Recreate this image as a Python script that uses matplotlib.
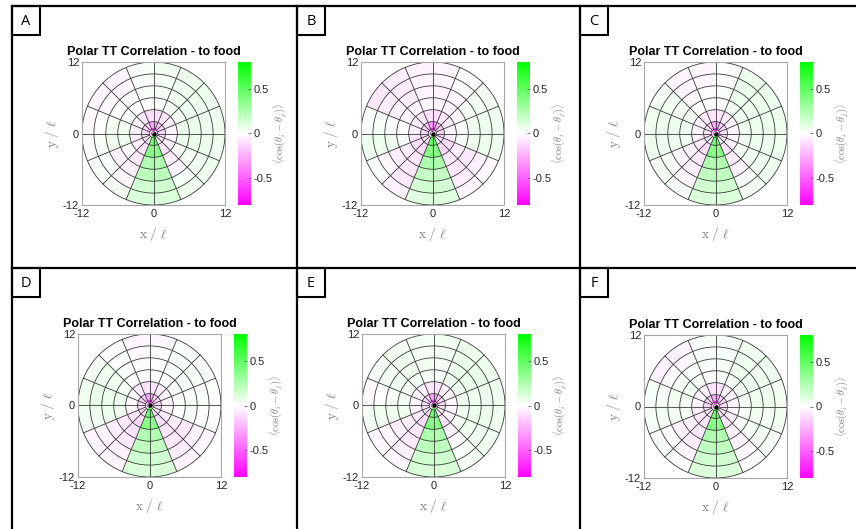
import numpy as np
import matplotlib
matplotlib.use('Agg')
import matplotlib.pyplot as plt
from matplotlib.colors import LinearSegmentedColormap
from matplotlib.lines import Line2D
from matplotlib.patches import Circle, Rectangle

plt.rcParams['font.family'] = ['Liberation Sans', 'DejaVu Sans']
plt.rcParams['mathtext.fontset'] = 'cm'

# ---------------- data ----------------
PANEL_LABELS = ['A', 'B', 'C', 'D', 'E', 'F']
TITLE = 'Polar TT Correlation - to food'
R_EDGES = [0.5, 1, 2, 4, 6, 8, 10, 12]          # radial bin edges (x / l)
N_SECTORS = 16                                   # angular bins, 22.5 deg each, from +x ccw
GRID_RADII = [2, 4, 6, 8, 10, 12]
INNER_RADII = [0.35, 0.7]
AXIS_TICKS = [-12, 0, 12]
AXIS_TICKLABELS = ['-12', '0', '12']
CBAR_TICKS = [-0.5, 0, 0.5]
CBAR_TICKLABELS = ['-0.5', '0', '0.5']
CLIM = (-0.8, 0.8)

# rows: radial bins (inner -> outer); columns: sectors 0..15
CORR_A = [
    [-0.20, -0.25, -0.40, -0.70, -0.70, -0.40, -0.25, -0.20, -0.15, -0.10, 0.10, 0.55, 0.55, 0.10, -0.10, -0.15],
    [-0.12, -0.15, -0.20, -0.35, -0.35, -0.20, -0.15, -0.12, -0.10, -0.08, -0.05, 0.55, 0.55, -0.05, -0.08, -0.10],
    [-0.04, -0.05, -0.08, -0.12, -0.12, -0.08, -0.05, -0.04, -0.04, -0.06, -0.10, 0.45, 0.45, -0.10, -0.06, -0.03],
    [0.06, 0.04, 0.03, 0.02, 0.01, 0.00, 0.02, 0.04, 0.05, 0.00, -0.07, 0.28, 0.28, -0.06, 0.02, 0.06],
    [0.07, 0.05, 0.05, 0.03, 0.02, -0.01, 0.00, 0.04, 0.05, -0.05, -0.05, 0.22, 0.22, -0.03, 0.04, 0.07],
    [0.06, 0.06, 0.05, 0.03, 0.02, -0.03, -0.02, 0.01, 0.03, 0.02, -0.02, 0.15, 0.15, 0.03, 0.05, 0.06],
    [0.05, 0.06, 0.05, 0.04, 0.02, -0.03, -0.03, -0.02, -0.01, 0.03, 0.04, 0.12, 0.12, 0.05, 0.05, 0.05],
]
CORR_B = [
    [-0.25, -0.30, -0.45, -0.75, -0.75, -0.45, -0.30, -0.25, -0.20, -0.15, 0.05, 0.55, 0.55, 0.05, -0.15, -0.20],
    [-0.15, -0.18, -0.22, -0.40, -0.40, -0.22, -0.18, -0.15, -0.12, -0.12, -0.10, 0.55, 0.55, -0.10, -0.12, -0.12],
    [-0.05, -0.06, -0.08, -0.12, -0.12, -0.08, -0.06, -0.06, -0.08, -0.12, -0.14, 0.45, 0.45, -0.14, -0.12, -0.06],
    [0.02, -0.02, -0.04, -0.03, -0.03, -0.04, -0.03, 0.00, 0.02, -0.06, -0.08, 0.28, 0.28, -0.08, -0.06, 0.02],
    [0.05, 0.03, -0.03, -0.04, -0.04, -0.06, -0.05, 0.02, 0.05, -0.06, -0.08, 0.20, 0.20, -0.08, -0.07, 0.05],
    [0.06, 0.04, 0.00, -0.03, -0.04, -0.06, -0.06, 0.03, 0.06, -0.02, -0.07, 0.14, 0.14, -0.06, -0.05, 0.06],
    [0.05, 0.04, 0.01, -0.03, -0.04, -0.06, -0.07, 0.02, 0.06, 0.02, -0.04, 0.10, 0.10, -0.03, -0.02, 0.05],
]
CORR_C = [
    [-0.20, -0.25, -0.40, -0.70, -0.70, -0.40, -0.25, -0.20, -0.15, -0.10, 0.10, 0.55, 0.55, 0.10, -0.10, -0.15],
    [-0.10, -0.12, -0.18, -0.35, -0.35, -0.18, -0.12, -0.10, -0.10, -0.10, -0.06, 0.55, 0.55, -0.06, -0.08, -0.10],
    [-0.03, -0.04, -0.06, -0.10, -0.10, -0.06, -0.04, -0.03, -0.04, -0.08, -0.12, 0.45, 0.45, -0.10, -0.05, -0.03],
    [0.05, 0.05, 0.04, 0.00, -0.01, 0.00, 0.03, 0.05, 0.05, -0.04, -0.07, 0.28, 0.28, -0.06, 0.03, 0.05],
    [0.06, 0.06, 0.06, 0.02, -0.01, -0.02, 0.04, 0.06, 0.06, -0.03, -0.06, 0.21, 0.21, -0.04, 0.05, 0.06],
    [0.06, 0.06, 0.07, 0.02, -0.02, -0.03, 0.05, 0.06, 0.06, 0.02, -0.03, 0.15, 0.15, 0.02, 0.05, 0.06],
    [0.05, 0.06, 0.06, 0.01, -0.02, -0.03, 0.04, 0.05, 0.06, 0.04, 0.02, 0.12, 0.12, 0.04, 0.05, 0.05],
]
CORR_D = [
    [-0.20, -0.25, -0.40, -0.70, -0.70, -0.40, -0.25, -0.20, -0.15, -0.10, 0.10, 0.55, 0.55, 0.10, -0.10, -0.15],
    [-0.12, -0.14, -0.18, -0.35, -0.35, -0.18, -0.14, -0.12, -0.10, -0.12, -0.10, 0.55, 0.55, -0.10, -0.10, -0.10],
    [-0.03, -0.04, -0.06, -0.10, -0.10, -0.06, -0.03, -0.02, -0.03, -0.10, -0.14, 0.45, 0.45, -0.12, -0.08, -0.03],
    [0.02, 0.02, 0.01, -0.01, -0.01, 0.01, 0.04, 0.06, 0.05, -0.07, -0.10, 0.28, 0.28, -0.09, -0.06, 0.01],
    [0.02, 0.03, 0.02, 0.00, -0.01, 0.02, 0.05, 0.07, 0.06, -0.06, -0.08, 0.21, 0.21, -0.08, -0.07, 0.02],
    [0.02, 0.03, 0.03, 0.00, -0.02, 0.02, 0.05, 0.07, 0.05, -0.04, -0.05, 0.15, 0.15, -0.06, -0.05, 0.02],
    [0.01, 0.02, 0.02, -0.02, -0.03, 0.01, 0.04, 0.05, 0.04, -0.03, -0.03, 0.12, 0.12, -0.04, -0.03, 0.01],
]
CORR_E = [
    [-0.20, -0.25, -0.40, -0.70, -0.70, -0.40, -0.25, -0.20, -0.15, -0.10, 0.10, 0.55, 0.55, 0.10, -0.10, -0.15],
    [-0.10, -0.12, -0.18, -0.35, -0.35, -0.18, -0.12, -0.10, -0.10, -0.10, -0.08, 0.55, 0.55, -0.08, -0.08, -0.10],
    [-0.02, -0.03, -0.05, -0.10, -0.10, -0.05, -0.03, -0.02, -0.03, -0.08, -0.12, 0.45, 0.45, -0.10, -0.04, -0.02],
    [0.05, 0.06, 0.05, 0.03, 0.03, 0.04, 0.04, 0.03, 0.04, -0.05, -0.08, 0.29, 0.29, -0.05, 0.04, 0.05],
    [0.06, 0.07, 0.07, 0.04, 0.04, 0.05, 0.05, 0.03, 0.05, -0.05, -0.07, 0.22, 0.22, -0.02, 0.05, 0.06],
    [0.06, 0.07, 0.07, 0.04, 0.04, 0.05, 0.04, 0.00, 0.05, -0.03, -0.05, 0.16, 0.16, 0.03, 0.05, 0.06],
    [0.05, 0.06, 0.06, 0.04, 0.03, 0.04, 0.03, -0.02, 0.04, -0.02, -0.03, 0.13, 0.13, 0.04, 0.05, 0.05],
]
CORR_F = [
    [-0.20, -0.25, -0.40, -0.70, -0.70, -0.40, -0.25, -0.20, -0.15, -0.10, 0.10, 0.55, 0.55, 0.10, -0.10, -0.15],
    [-0.12, -0.14, -0.18, -0.35, -0.35, -0.18, -0.14, -0.12, -0.10, -0.10, -0.08, 0.55, 0.55, -0.08, -0.10, -0.10],
    [-0.03, -0.04, -0.05, -0.10, -0.10, -0.05, -0.03, -0.03, -0.04, -0.08, -0.10, 0.45, 0.45, -0.10, -0.05, -0.03],
    [0.04, 0.04, 0.04, 0.02, 0.01, 0.03, 0.04, 0.04, 0.04, -0.05, -0.07, 0.28, 0.28, -0.05, 0.02, 0.04],
    [0.05, 0.05, 0.05, 0.03, 0.02, 0.02, 0.03, 0.04, 0.04, -0.05, -0.06, 0.21, 0.21, -0.04, 0.03, 0.04],
    [0.05, 0.05, 0.05, 0.03, 0.02, -0.02, -0.01, 0.03, 0.04, 0.00, -0.03, 0.15, 0.15, -0.02, 0.04, 0.04],
    [0.04, 0.05, 0.05, 0.03, 0.02, -0.04, -0.04, 0.02, 0.03, 0.02, 0.01, 0.12, 0.12, -0.01, 0.03, 0.04],
]
PANEL_DATA = [CORR_A, CORR_B, CORR_C, CORR_D, CORR_E, CORR_F]

# ---------------- layout (pixels) ----------------
W, H = 856, 529
AX_LEFT = [82, 361, 644, 78, 362, 644]
AX_TOP = [62, 62, 62, 334, 334, 335]
AX_SIZE = 143
CB_LEFT = [238, 517, 800, 234, 518, 800]
CB_W = 13
BOX_LEFT = [12, 297, 580, 12, 297, 580]
BOX_TOP = [6, 6, 6, 268, 268, 268]
BOX_W, BOX_H = 28, 29

fig = plt.figure(figsize=(W / 100, H / 100), dpi=100)
fig.patch.set_facecolor('white')


def rect(left, top, w, h):
    return [left / W, 1 - (top + h) / H, w / W, h / H]


cmap = LinearSegmentedColormap.from_list('mg', [(1, 0, 1), (1, 1, 1), (0, 1, 0)])
SUB = 8
theta_fine = np.linspace(0, 2 * np.pi, N_SECTORS * SUB + 1)
RR, TT = np.meshgrid(np.array(R_EDGES, float), theta_fine, indexing='ij')
XX = RR * np.cos(TT)
YY = RR * np.sin(TT)
GRID_COL = '#3a3a3a'
AX_COL = '#a6a6a6'
LBL_COL = '#7f7f7f'

for i, data in enumerate(PANEL_DATA):
    ax = fig.add_axes(rect(AX_LEFT[i], AX_TOP[i], AX_SIZE, AX_SIZE))
    C = np.repeat(np.array(data, float), SUB, axis=1)
    mesh = ax.pcolormesh(XX, YY, C, cmap=cmap, vmin=CLIM[0], vmax=CLIM[1],
                         shading='flat', edgecolors='none', antialiased=True)
    for r in GRID_RADII:
        ax.add_patch(Circle((0, 0), r, fill=False, ec=GRID_COL, lw=0.6))
    for r in INNER_RADII:
        ax.add_patch(Circle((0, 0), r, fill=False, ec='#555555', lw=0.5))
    for k in range(N_SECTORS):
        a = 2 * np.pi * k / N_SECTORS
        ax.plot([INNER_RADII[-1] * np.cos(a), 12 * np.cos(a)],
                [INNER_RADII[-1] * np.sin(a), 12 * np.sin(a)],
                color=GRID_COL, lw=0.6)
    ax.plot([0], [0], 'o', color='black', ms=2.2)
    ax.set_xlim(-12, 12)
    ax.set_ylim(-12, 12)
    ax.set_aspect('equal')
    ax.set_xticks(AXIS_TICKS)
    ax.set_xticklabels(AXIS_TICKLABELS)
    ax.set_yticks(AXIS_TICKS)
    ax.set_yticklabels(AXIS_TICKLABELS)
    ax.tick_params(direction='in', length=2.5, width=0.6, color=AX_COL,
                   labelsize=8, pad=2, labelcolor='#262626')
    ax.tick_params(axis='x', pad=3)
    for s in ax.spines.values():
        s.set_color(AX_COL)
        s.set_linewidth(0.8)
    ax.set_xlabel(r'$\mathrm{x}\ /\ \ell$', color=LBL_COL, fontsize=9.5)
    ax.set_ylabel(r'$\mathrm{y}\ /\ \ell$', color=LBL_COL, fontsize=9.5)
    ax.xaxis.set_label_coords(0.5, -0.14)
    ax.yaxis.set_label_coords(-0.15, 0.5)
    ax.set_title(TITLE, fontsize=9, fontweight='bold', pad=5)

    cax = fig.add_axes(rect(CB_LEFT[i], AX_TOP[i], CB_W, AX_SIZE))
    cb = fig.colorbar(mesh, cax=cax, ticks=CBAR_TICKS)
    cb.set_ticklabels(CBAR_TICKLABELS)
    cb.outline.set_visible(False)
    cax.tick_params(direction='in', length=2.5, width=0.6, color='#606060',
                    labelsize=8, pad=2, labelcolor='#262626')
    cb.set_label(r'$\langle\cos(\theta_i-\theta_j)\rangle$', color=LBL_COL,
                 fontsize=7.5, labelpad=-1)

    # panel label box
    fig.add_artist(Rectangle((BOX_LEFT[i] / W, 1 - (BOX_TOP[i] + BOX_H) / H),
                             BOX_W / W, BOX_H / H, transform=fig.transFigure,
                             fill=False, ec='black', lw=1.5))
    fig.text((BOX_LEFT[i] + BOX_W / 2) / W, 1 - (BOX_TOP[i] + BOX_H / 2 + 1) / H,
             PANEL_LABELS[i], ha='center', va='center', fontsize=10.5,
             family=['Open Sans', 'DejaVu Sans'])

# panel frames
def fline(x0, y0, x1, y1):
    fig.add_artist(Line2D([x0 / W, x1 / W], [1 - y0 / H, 1 - y1 / H],
                          transform=fig.transFigure, color='black', lw=1.6))

fline(12, 6, 856, 6)
fline(12, 268, 856, 268)
fline(12, 6, 12, 529)
fline(297, 6, 297, 529)
fline(580, 6, 580, 529)

fig.savefig('out.png', dpi=100, facecolor='white')
